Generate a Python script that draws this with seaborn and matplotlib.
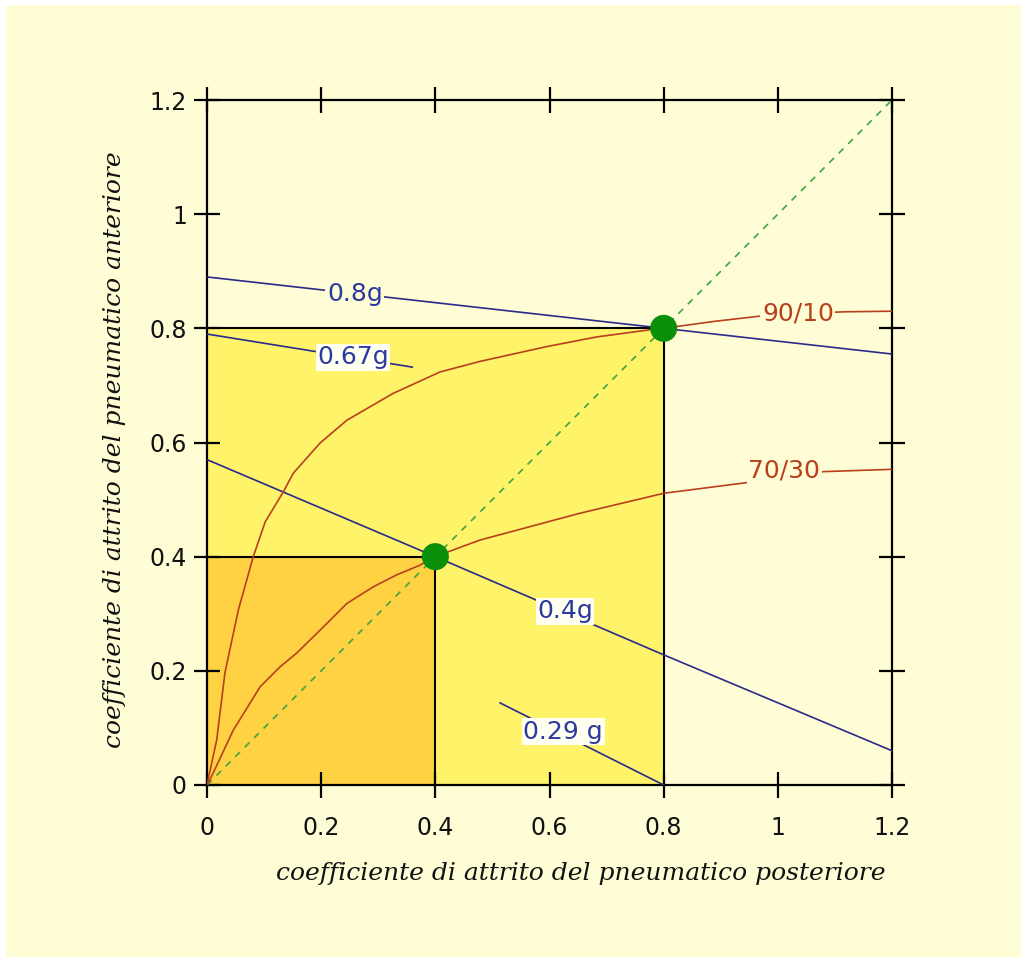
import matplotlib
matplotlib.use("Agg")
import matplotlib.pyplot as plt
import seaborn as sns
import pandas as pd
from matplotlib.patches import Rectangle

# ---------------- data ----------------
ticks = [0, 0.2, 0.4, 0.6, 0.8, 1.0, 1.2]
tick_labels = ["0", "0.2", "0.4", "0.6", "0.8", "1", "1.2"]

operating_points = [0.4, 0.8]

r9010_x = [0, 0.017, 0.0315, 0.055, 0.081, 0.102, 0.134, 0.151, 0.198, 0.245, 0.326,
           0.408, 0.478, 0.595, 0.683, 0.78, 0.8, 0.887, 1.0, 1.12, 1.2]
r9010_y = [0, 0.079, 0.197, 0.307, 0.40, 0.461, 0.514, 0.546, 0.599, 0.639, 0.686,
           0.7235, 0.742, 0.768, 0.785, 0.798, 0.8, 0.812, 0.825, 0.829, 0.83]

r7030_x = [0, 0.008, 0.046, 0.093, 0.128, 0.157, 0.204, 0.245, 0.291, 0.332, 0.373,
           0.4, 0.44, 0.478, 0.653, 0.8, 0.94, 1.08, 1.2]
r7030_y = [0, 0.015, 0.096, 0.172, 0.207, 0.231, 0.277, 0.318, 0.347, 0.368, 0.385,
           0.4, 0.415, 0.429, 0.476, 0.511, 0.529, 0.549, 0.553]

g08_x, g08_y = [0, 1.2], [0.89, 0.755]
g067_x, g067_y = [0, 0.36], [0.79, 0.732]
g04_x, g04_y = [0, 0.4, 0.8, 1.2], [0.57, 0.4, 0.228, 0.06]
g029_x, g029_y = [0.513, 0.8], [0.144, 0.0]

diag_x, diag_y = [0, 1.2], [0, 1.2]

# labels: text, x, y
blue_labels = [("0.8g", 0.259, 0.861), ("0.67g", 0.256, 0.749),
               ("0.4g", 0.627, 0.304), ("0.29 g", 0.624, 0.093)]
red_labels = [("90/10", 1.035, 0.826), ("70/30", 1.011, 0.551)]

xlabel = "coefficiente di attrito del pneumatico posteriore"
ylabel = "coefficiente di attrito del pneumatico anteriore"

# ---------------- style ----------------
sns.set_theme(style="white")
plt.rcParams['font.family'] = ['DejaVu Sans']

BG = "#FFFDD6"
YELLOW = "#FFF36A"
ORANGE = "#FFD244"
BLUE = "#2A2A8A"
BLUE_TXT = "#2B3AA0"
RED = "#B8401C"
GREEN_DOT = "#0A8F0A"
GREEN_DASH = "#3DA53D"
LW = 1.2

fig = plt.figure(figsize=(10.21, 9.57), dpi=100, facecolor=BG)
ax = fig.add_axes([207/1021, 1 - 785/957, 685/1021, 685/957])
ax.set_facecolor(BG)
ax.set_xlim(0, 1.2)
ax.set_ylim(0, 1.2)

# white strips on left/top edges of image
fig.patches.append(Rectangle((0, 0), 6/1021, 1, transform=fig.transFigure,
                             facecolor="white", edgecolor="none", zorder=-5))
fig.patches.append(Rectangle((0, 1 - 5/957), 1, 5/957, transform=fig.transFigure,
                             facecolor="white", edgecolor="none", zorder=-5))

# filled squares
ax.add_patch(Rectangle((0, 0), operating_points[1], operating_points[1],
                       facecolor=YELLOW, edgecolor="none", zorder=0))
ax.add_patch(Rectangle((0, 0), operating_points[0], operating_points[0],
                       facecolor=ORANGE, edgecolor="none", zorder=0.5))

# black square edges
for p in operating_points:
    ax.plot([0, p], [p, p], color="black", lw=1.5, zorder=2)
    ax.plot([p, p], [0, p], color="black", lw=1.5, zorder=2)

# diagonal
sns.lineplot(x=diag_x, y=diag_y, ax=ax, color=GREEN_DASH, lw=1.2,
             linestyle=(0, (4, 4)), zorder=3, estimator=None, sort=False)

# blue iso-deceleration lines
for xs, ys in [(g08_x, g08_y), (g067_x, g067_y), (g04_x, g04_y), (g029_x, g029_y)]:
    sns.lineplot(x=xs, y=ys, ax=ax, color=BLUE, lw=LW, zorder=3,
                 estimator=None, sort=False)

# red distribution curves
for xs, ys in [(r9010_x, r9010_y), (r7030_x, r7030_y)]:
    sns.lineplot(x=xs, y=ys, ax=ax, color=RED, lw=LW, zorder=3,
                 estimator=None, sort=False)

# green operating points
pts = pd.DataFrame({"x": operating_points, "y": operating_points})
sns.scatterplot(data=pts, x="x", y="y", ax=ax, color=GREEN_DOT, s=380,
                edgecolor="none", zorder=5)

# labels
for t, x, y in blue_labels:
    fc = BG if y > 0.8 else "#FFFFF2"
    ax.text(x, y, t, color=BLUE_TXT, fontsize=18, ha="center", va="center",
            zorder=4, bbox=dict(facecolor=fc, edgecolor="none", pad=1.0))
for t, x, y in red_labels:
    ax.text(x, y, t, color=RED, fontsize=18, ha="center", va="center",
            zorder=4, bbox=dict(facecolor=BG, edgecolor="none", pad=1.0))

# axes / ticks
for s in ax.spines.values():
    s.set_color("black")
    s.set_linewidth(1.6)
    s.set_visible(True)
ax.set_xticks(ticks)
ax.set_yticks(ticks)
ax.set_xticklabels(tick_labels)
ax.set_yticklabels(tick_labels)
ax.tick_params(axis="both", which="major", direction="inout", length=19,
               width=1.6, color="black", labelsize=17, labelcolor="#111111",
               top=True, right=True, bottom=True, left=True)
ax.tick_params(axis="x", pad=13)
ax.tick_params(axis="y", pad=5)
ax.grid(False)

ax.set_xlabel(xlabel, fontsize=18, fontstyle="italic", family="DejaVu Serif",
              color="#111111")
ax.xaxis.set_label_coords(0.545, -0.113)
ax.set_ylabel(ylabel, fontsize=18, fontstyle="italic", family="DejaVu Serif",
              color="#111111")
ax.yaxis.set_label_coords(-0.118, 0.489)

fig.savefig("out.png", dpi=100, facecolor=BG)
